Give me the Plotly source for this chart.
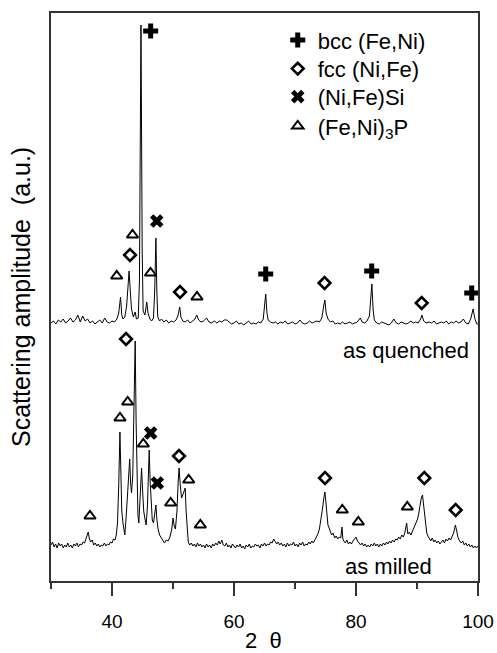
import plotly.graph_objects as go

# ---------------- data (2theta in degrees, amplitude in arbitrary units) ----------------
quenched_2theta = [
    30.0, 30.4, 30.8, 31.2, 31.6, 32.0, 32.4, 32.8, 33.2, 33.6, 34.0, 34.4, 34.8, 35.2, 35.6,
    36.0, 36.4, 36.8, 37.2, 37.6, 38.0, 38.4, 38.8, 39.2, 39.6, 40.0, 40.4, 40.8, 41.1, 41.4,
    41.6, 41.8, 42.1, 42.4, 42.8, 43.0, 43.2, 43.5, 43.8, 44.0, 44.3, 44.5, 44.75, 44.95, 45.1,
    45.4, 45.7, 45.9, 46.2, 46.5, 46.8, 47.0, 47.2, 47.35, 47.5, 47.8, 48.1, 48.5, 48.9, 49.3,
    49.7, 50.1, 50.5, 50.8, 51.1, 51.3, 51.6, 52.0, 52.4, 52.8, 53.2, 53.6, 53.9, 54.2, 54.6,
    55.0, 55.5, 55.9, 56.3, 56.8, 57.2, 57.6, 58.0, 58.4, 58.8, 59.2, 59.6, 60.0, 60.4, 60.8,
    61.2, 61.6, 62.0, 62.4, 62.8, 63.2, 63.6, 64.0, 64.4, 64.8, 65.0, 65.2, 65.4, 65.6, 66.0,
    66.4, 66.8, 67.2, 67.6, 68.0, 68.4, 68.8, 69.2, 69.6, 70.0, 70.4, 70.8, 71.2, 71.6, 72.0,
    72.4, 72.8, 73.2, 73.6, 74.0, 74.4, 74.7, 74.9, 75.1, 75.4, 75.8, 76.2, 76.6, 77.0, 77.4,
    77.8, 78.2, 78.6, 79.0, 79.4, 79.8, 80.2, 80.7, 81.0, 81.4, 81.8, 82.2, 82.45, 82.6, 82.8,
    83.0, 83.4, 83.8, 84.2, 84.6, 85.0, 85.4, 85.8, 86.2, 86.6, 87.0, 87.4, 87.8, 88.2, 88.6,
    89.0, 89.4, 89.8, 90.2, 90.6, 90.8, 91.1, 91.5, 92.0, 92.4, 92.8, 93.2, 93.6, 94.0, 94.4,
    94.8, 95.2, 95.6, 96.0, 96.4, 96.8, 97.2, 97.6, 98.0, 98.4, 98.8, 99.2, 99.5, 99.8, 100.0,
]
quenched_amp = [
    258, 260, 257, 261, 259, 262, 258, 260, 263, 259, 261, 266, 259, 265, 260,
    262, 258, 260, 257, 259, 261, 258, 263, 259, 258, 260, 259, 262, 268, 284,
    266, 262, 264, 275, 310, 290, 272, 264, 269, 262, 263, 300, 556, 330, 270,
    266, 279, 268, 262, 260, 263, 290, 343, 290, 264, 260, 262, 259, 261, 258,
    260, 259, 261, 265, 274, 264, 260, 259, 261, 258, 260, 262, 266, 261, 259,
    260, 263, 259, 258, 260, 258, 260, 259, 261, 261, 259, 257, 258, 260, 257,
    258, 256, 258, 260, 257, 258, 257, 259, 258, 262, 275, 287, 268, 261, 259,
    258, 259, 257, 259, 258, 260, 257, 258, 259, 257, 258, 261, 258, 257, 258,
    260, 258, 259, 260, 259, 263, 275, 281, 268, 262, 259, 260, 257, 258, 257,
    259, 257, 258, 259, 257, 258, 259, 263, 259, 258, 260, 265, 285, 297, 272,
    261, 258, 257, 259, 258, 257, 256, 258, 262, 258, 257, 259, 258, 257, 258,
    260, 258, 259, 258, 262, 266, 260, 258, 259, 258, 260, 257, 258, 259, 258,
    260, 257, 259, 258, 260, 258, 259, 262, 258, 257, 262, 272, 262, 257, 257,
]

milled_2theta = [
    30.0, 30.25, 30.5, 30.75, 31.0, 31.25, 31.5, 31.75, 32.0, 32.25, 32.5, 32.75, 33.0, 33.25,
    33.5, 33.75, 34.0, 34.25, 34.5, 34.75, 35.0, 35.25, 35.5, 35.75, 36.0, 36.1, 36.3, 36.5,
    36.75, 37.0, 37.25, 37.5, 37.75, 38.0, 38.25, 38.5, 38.75, 39.0, 39.25, 39.5, 39.75, 40.0,
    40.25, 40.5, 40.7, 40.9, 41.1, 41.3, 41.45, 41.6, 41.8, 42.0, 42.1, 42.3, 42.5, 42.7,
    42.9, 43.05, 43.2, 43.4, 43.6, 43.8, 43.95, 44.1, 44.25, 44.4, 44.6, 44.85, 45.0, 45.2,
    45.4, 45.6, 45.8, 46.0, 46.1, 46.25, 46.45, 46.6, 46.8, 47.0, 47.2, 47.35, 47.55, 47.8,
    48.0, 48.3, 48.6, 48.9, 49.2, 49.5, 49.8, 50.0, 50.2, 50.4, 50.65, 50.85, 51.0, 51.2,
    51.4, 51.6, 51.8, 52.0, 52.15, 52.35, 52.5, 52.75, 53.0, 53.25, 53.5, 53.75, 54.0, 54.25,
    54.5, 54.75, 55.0, 55.25, 55.5, 55.75, 56.0, 56.25, 56.5, 56.75, 57.0, 57.25, 57.5, 57.75,
    58.0, 58.25, 58.5, 58.75, 59.0, 59.25, 59.5, 59.75, 60.0, 60.25, 60.5, 60.75, 61.0, 61.25,
    61.5, 61.75, 62.0, 62.25, 62.5, 62.75, 63.0, 63.25, 63.5, 63.75, 64.0, 64.25, 64.5, 64.75,
    65.0, 65.25, 65.5, 65.75, 66.0, 66.25, 66.5, 66.75, 67.0, 67.25, 67.5, 67.75, 68.0, 68.25,
    68.5, 68.75, 69.0, 69.25, 69.5, 69.75, 70.0, 70.25, 70.5, 70.75, 71.0, 71.25, 71.5, 71.75,
    72.0, 72.25, 72.5, 72.75, 73.0, 73.25, 73.5, 73.75, 74.0, 74.25, 74.5, 74.75, 74.9, 75.05,
    75.2, 75.4, 75.6, 75.8, 76.0, 76.25, 76.5, 76.75, 77.0, 77.25, 77.5, 77.7, 77.85, 78.0,
    78.25, 78.5, 78.75, 79.0, 79.25, 79.5, 79.75, 80.0, 80.25, 80.5, 80.75, 81.0, 81.25, 81.5,
    81.75, 82.0, 82.25, 82.5, 82.75, 83.0, 83.25, 83.5, 83.75, 84.0, 84.25, 84.5, 84.75, 85.0,
    85.25, 85.5, 85.75, 86.0, 86.25, 86.5, 86.75, 87.0, 87.25, 87.5, 87.75, 88.0, 88.3, 88.5,
    88.75, 89.0, 89.25, 89.5, 89.75, 89.9, 90.1, 90.3, 90.5, 90.7, 90.9, 91.05, 91.2, 91.4,
    91.6, 91.8, 92.0, 92.25, 92.5, 92.75, 93.0, 93.25, 93.5, 93.75, 94.0, 94.25, 94.5, 94.75,
    95.0, 95.25, 95.5, 95.75, 96.0, 96.3, 96.5, 96.75, 97.0, 97.25, 97.5, 97.75, 98.0, 98.25,
    98.5, 98.75, 99.0, 99.25, 99.5, 99.75, 100.0,
]
milled_amp = [
    36, 39, 34, 37, 33, 38, 35, 37, 33, 36, 34, 38, 34, 36,
    33, 37, 35, 38, 34, 37, 36, 39, 38, 42, 46, 49, 42, 39,
    41, 36, 38, 35, 37, 34, 36, 35, 38, 35, 37, 36, 39, 38,
    42, 41, 46, 58, 95, 149, 110, 70, 58, 50, 46, 62, 82, 96,
    122, 98, 88, 105, 160, 240, 160, 92, 66, 58, 78, 113, 92, 70,
    62, 56, 74, 118, 131, 100, 70, 61, 58, 66, 76, 62, 52, 46,
    44, 40, 38, 41, 40, 44, 52, 63, 55, 52, 70, 100, 113, 95,
    83, 86, 90, 93, 70, 45, 39, 36, 38, 35, 37, 34, 38, 35,
    37, 34, 36, 33, 37, 34, 36, 33, 37, 35, 38, 36, 40, 37,
    41, 36, 35, 38, 34, 36, 33, 37, 35, 33, 36, 34, 37, 33,
    35, 32, 36, 34, 37, 33, 35, 34, 37, 35, 36, 33, 37, 35,
    38, 35, 37, 36, 39, 38, 42, 40, 37, 39, 36, 38, 35, 37,
    34, 38, 35, 37, 36, 39, 35, 37, 34, 38, 36, 39, 35, 37,
    36, 39, 37, 40, 38, 41, 44, 47, 52, 60, 72, 84, 89, 80,
    66, 56, 53, 50, 46, 48, 43, 45, 42, 44, 43, 54, 42, 40,
    38, 41, 37, 39, 37, 40, 42, 44, 40, 38, 36, 38, 35, 37,
    34, 36, 34, 37, 35, 38, 35, 37, 34, 37, 35, 38, 36, 39,
    37, 40, 38, 41, 39, 42, 41, 44, 42, 46, 44, 48, 58, 47,
    49, 46, 50, 53, 56, 59, 62, 68, 76, 83, 86, 78, 68, 56,
    48, 45, 42, 40, 43, 39, 41, 38, 40, 37, 39, 41, 38, 42,
    40, 43, 41, 44, 48, 56, 48, 43, 40, 38, 40, 36, 38, 35,
    37, 34, 36, 33, 35, 33, 35,
]

# peak markers (both patterns) per phase
bcc_2theta = [46.34, 65.2, 82.57, 98.97]
bcc_amp = [550, 307, 310, 288]
fcc_2theta = [42.95, 51.15, 74.84, 90.77, 42.30, 50.98, 74.92, 91.20, 96.34]
fcc_amp = [326, 289, 298, 278, 242, 125, 103, 103, 71]
sil_2theta = [47.33, 46.34, 47.43]
sil_amp = [360, 148, 98]
phos_2theta = [43.36, 40.77, 46.31, 53.93, 42.57, 41.31, 45.13, 52.57, 49.62, 36.39, 54.48,
               77.75, 80.38, 88.41]
phos_amp = [346, 305, 308, 284, 179, 163, 137, 101, 78, 65, 56, 71, 59, 74]

phase_names = ["bcc (Fe,Ni)", "fcc (Ni,Fe)", "(Ni,Fe)Si", "(Fe,Ni)<sub>3</sub>P"]
pattern_labels = ["as quenched", "as milled"]

FONT = "Liberation Sans, Arial, Helvetica, sans-serif"

fig = go.Figure()
fig.add_trace(go.Scatter(x=quenched_2theta, y=quenched_amp, mode="lines",
                         line=dict(color="black", width=1), showlegend=False, hoverinfo="skip"))
fig.add_trace(go.Scatter(x=milled_2theta, y=milled_amp, mode="lines",
                         line=dict(color="black", width=1), showlegend=False, hoverinfo="skip"))

marker_specs = [
    (bcc_2theta, bcc_amp, "cross", 12.5, 0),
    (fcc_2theta, fcc_amp, "diamond-open", 9, 2.6),
    (sil_2theta, sil_amp, "x", 12, 0),
    (phos_2theta, phos_amp, "triangle-up-open", 10, 2),
]
legend_ids = ["legend", "legend2", "legend3", "legend4"]
for i, (xs, ys, sym, size, lw) in enumerate(marker_specs):
    fig.add_trace(go.Scatter(
        x=xs, y=ys, mode="markers", name=phase_names[i], legend=legend_ids[i],
        marker=dict(symbol=sym, size=size, color="black",
                    line=dict(color="black", width=lw)),
        cliponaxis=False,
    ))

legend_tops = [0.9891, 0.9387, 0.8894, 0.8377]
legend_layouts = {}
for lid, ytop in zip(legend_ids, legend_tops):
    legend_layouts[lid] = dict(x=0.531, y=ytop, xanchor="left", yanchor="top",
                               bgcolor="rgba(0,0,0,0)", borderwidth=0,
                               font=dict(size=22, family=FONT))

fig.update_layout(
    width=497, height=653,
    margin=dict(l=51, r=19, t=13, b=72, autoexpand=False),
    paper_bgcolor="white", plot_bgcolor="white",
    font=dict(family=FONT, color="black", size=19),
    showlegend=True,
    annotations=[
        dict(text=pattern_labels[0], xref="paper", yref="paper", x=0.983, y=0.4055,
             xanchor="right", yanchor="middle", showarrow=False, font=dict(size=22)),
        dict(text=pattern_labels[1], xref="paper", yref="paper", x=0.684, y=0.0252,
             xanchor="left", yanchor="middle", showarrow=False, font=dict(size=22)),
        dict(text="Scattering amplitude\u00a0 (a.u.)", xref="paper", yref="paper",
             x=-0.0703, y=0.5, xanchor="center", yanchor="middle", textangle=-90,
             showarrow=False, font=dict(size=25)),
        dict(text="2\u00a0 \u03b8", xref="paper", yref="paper", x=0.4965, y=-0.1045,
             xanchor="center", yanchor="middle", showarrow=False, font=dict(size=22)),
    ],
    **legend_layouts,
)
fig.update_xaxes(
    range=[30, 100], showgrid=False, zeroline=False, automargin=False,
    showline=True, linecolor="#333", linewidth=1.5, mirror=True,
    ticks="outside", ticklen=13, tickwidth=1.5, tickcolor="#333",
    tick0=0, dtick=20, ticklabelstandoff=9,
    minor=dict(ticks="outside", ticklen=6, tickwidth=1.5, tickcolor="#333", tick0=0, dtick=10),
)
fig.update_yaxes(
    range=[0, 568], showgrid=False, zeroline=False, automargin=False,
    showline=True, linecolor="#333", linewidth=1.5, mirror=True,
    ticks="", showticklabels=False,
)

fig.write_html("out.html")
